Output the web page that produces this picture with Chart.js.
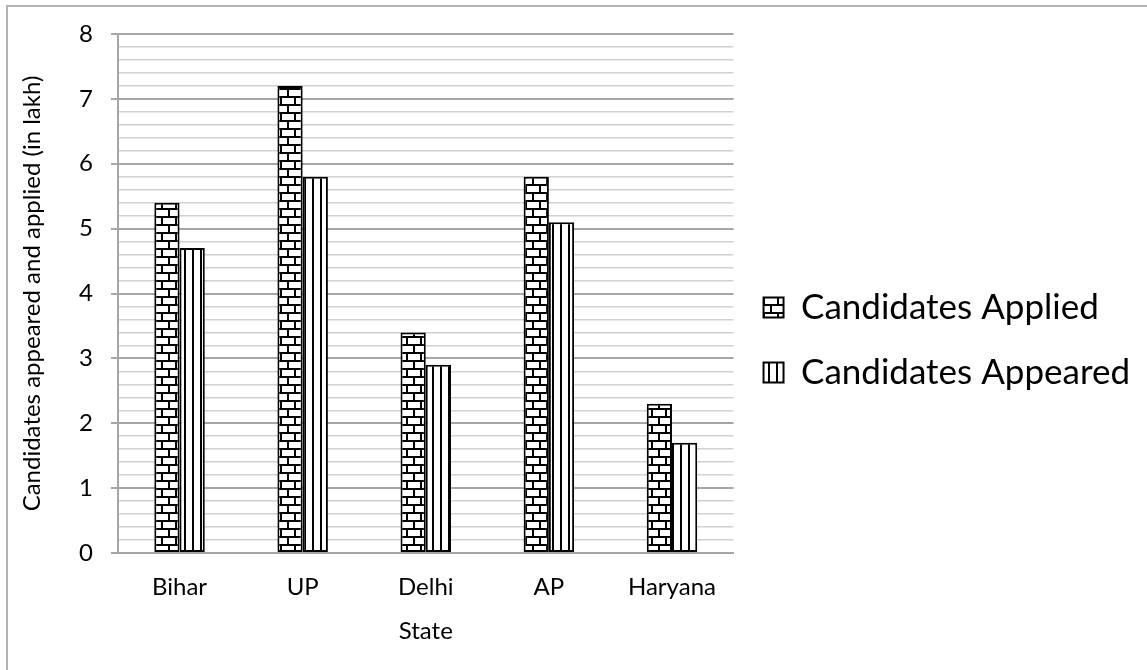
<!DOCTYPE html>
<html>
<head>
<meta charset="utf-8">
<script src="https://cdn.jsdelivr.net/npm/chart.js@4.4.0/dist/chart.umd.min.js"></script>
<style>
    html, body { margin: 0; padding: 0; background: #fff; }
    #wrap { position: relative; width: 1147px; height: 670px; }
</style>
</head>
<body>
<div id="wrap"><canvas id="grafica"></canvas></div>
<script>
// Datos
const states = ['Bihar', 'UP', 'Delhi', 'AP', 'Haryana'];
const applied = [5.4, 7.2, 3.4, 5.8, 2.3];
const appeared = [4.7, 5.8, 2.9, 5.1, 1.7];
const yTickLabels = ['0', '1', '2', '3', '4', '5', '6', '7', '8'];

const FONT = 'Lato';

// Patron de ladrillos
function brickPattern() {
    const c = document.createElement('canvas');
    c.width = 14; c.height = 16;
    const g = c.getContext('2d');
    g.fillStyle = '#fff';
    g.fillRect(0, 0, 14, 16);
    g.fillStyle = '#000';
    g.fillRect(0, 0, 14, 2);
    g.fillRect(0, 8, 14, 2);
    g.fillRect(0, 0, 2, 8);
    g.fillRect(7, 8, 2, 8);
    return g.createPattern(c, 'repeat');
}

// Patron de rayas verticales
function stripePattern() {
    const c = document.createElement('canvas');
    c.width = 8; c.height = 8;
    const g = c.getContext('2d');
    g.fillStyle = '#fff';
    g.fillRect(0, 0, 8, 8);
    g.fillStyle = '#000';
    g.fillRect(0, 0, 2, 8);
    return g.createPattern(c, 'repeat');
}

function isMajor(v) {
    return Math.abs(v - Math.round(v)) < 1e-6;
}

// Marco gris alrededor del grafico
const frame = {
    id: 'frame',
    beforeDraw(chart) {
        const c = chart.ctx;
        c.save();
        c.fillStyle = '#fff';
        c.fillRect(0, 0, chart.width, chart.height);
        c.strokeStyle = '#b3b3b3';
        c.lineWidth = 2;
        c.beginPath();
        c.moveTo(7, chart.height);
        c.lineTo(7, 6);
        c.lineTo(chart.width, 6);
        c.stroke();
        c.restore();
    }
};

const ctx = document.getElementById('grafica').getContext('2d');

window.miGrafica = new Chart(ctx, {
    type: 'bar',
    data: {
        labels: states,
        datasets: [{
            label: 'Candidates Applied',
            data: applied,
            backgroundColor: brickPattern(),
            borderColor: '#000',
            borderWidth: 2,
            borderSkipped: false
        }, {
            label: 'Candidates Appeared',
            data: appeared,
            backgroundColor: stripePattern(),
            borderColor: '#000',
            borderWidth: 2,
            borderSkipped: false
        }]
    },
    options: {
        responsive: true,
        maintainAspectRatio: false,
        animation: false,
        layout: {
            padding: { top: 10, left: 0, right: 7, bottom: 0 }
        },
        datasets: {
            bar: { categoryPercentage: 0.41, barPercentage: 1 }
        },
        plugins: {
            tooltip: { enabled: false },
            // titulo vacio, solo para bajar el area del grafico
            title: {
                display: true,
                text: ' ',
                fullSize: false,
                padding: 0,
                font: { family: FONT, size: 20 }
            },
            legend: {
                position: 'right',
                maxWidth: 450,
                labels: {
                    color: '#000',
                    font: { family: FONT, size: 35 },
                    boxWidth: 20,
                    boxHeight: 20,
                    padding: 30
                }
            }
        },
        scales: {
            x: {
                grid: { display: false, drawTicks: false },
                border: { display: true, color: '#a6a6a6', width: 2 },
                ticks: { color: '#000', font: { family: FONT, size: 24 }, padding: 20 },
                title: {
                    display: true,
                    text: 'State',
                    color: '#000',
                    font: { family: FONT, size: 24 },
                    padding: { top: 0, bottom: 24 }
                },
                afterFit(scale) { scale.height = 117; }
            },
            y: {
                min: 0,
                max: 8,
                grid: {
                    color: (c) => isMajor(c.tick.value) ? '#a6a6a6' : '#d0d0d0',
                    tickColor: (c) => isMajor(c.tick.value) ? '#a6a6a6' : 'rgba(0,0,0,0)',
                    lineWidth: (c) => isMajor(c.tick.value) ? 2 : 1.5,
                    tickLength: 7
                },
                border: { display: true, color: '#a6a6a6', width: 2 },
                ticks: {
                    stepSize: 0.2,
                    autoSkip: false,
                    color: '#000',
                    padding: 18,
                    font: { family: FONT, size: 24 },
                    callback: (v) => isMajor(v) ? yTickLabels[Math.round(v)] : ''
                },
                title: {
                    display: true,
                    text: 'Candidates appeared and applied (in lakh)',
                    color: '#000',
                    font: { family: FONT, size: 24 },
                    padding: { top: 18, bottom: 0 }
                },
                afterFit(scale) { scale.width = 118; }
            }
        }
    },
    plugins: [frame]
});
</script>
</body>
</html>
